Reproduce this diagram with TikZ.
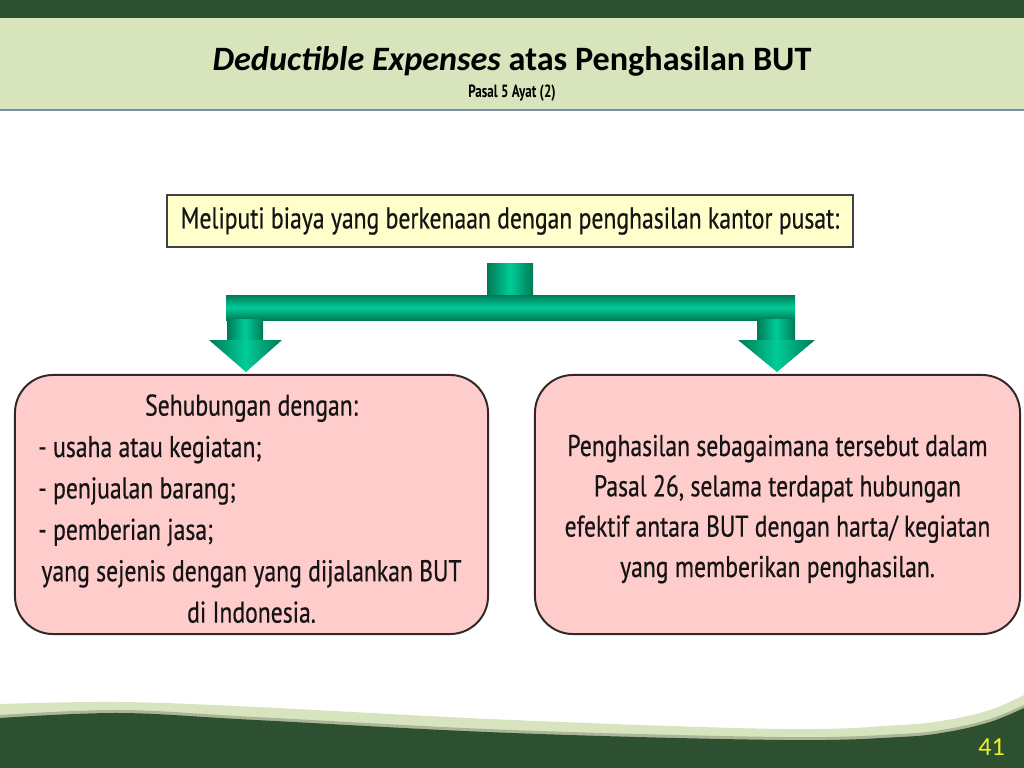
\documentclass[tikz,border=0pt]{standalone}
\usepackage{fontspec}
\setmainfont{Carlito}
\newfontfamily\cond[FakeStretch=0.79,FakeBold=0.5]{PT Sans}
\newfontfamily\condb[FakeStretch=0.74]{PT Sans}
\definecolor{dkgreen}{RGB}{45,81,48}
\definecolor{hdrgreen}{RGB}{216,228,188}
\definecolor{hdrline}{RGB}{122,143,163}
\definecolor{stripA}{RGB}{215,228,189}
\definecolor{stripB}{RGB}{170,182,150}
\definecolor{gdark}{RGB}{0,122,86}
\definecolor{glight}{RGB}{0,204,152}
\definecolor{ybox}{RGB}{255,255,204}
\definecolor{pbox}{RGB}{255,204,204}
\definecolor{pborder}{RGB}{50,40,40}
\definecolor{txt}{RGB}{20,20,20}
\definecolor{pgno}{RGB}{235,240,40}
\tikzset{
  x=0.025cm, y=-0.025cm,
  boxtxt/.style={inner sep=0pt, text=txt, font=\cond\fontsize{21.3pt}{25pt}\selectfont},
  yellowbox/.style={draw=black!75, line width=1pt, fill=ybox, minimum width=17.15cm, minimum height=1.3cm, inner sep=0pt, text=txt, font=\cond\fontsize{21.3pt}{25pt}\selectfont},
  pinkbox/.style={draw=pborder, line width=1.4pt, fill=pbox, rounded corners=0.95cm, minimum height=6.475cm, inner sep=0pt},
  gshadeh/.style={left color=gdark, right color=gdark, middle color=glight},
  gshadev/.style={top color=gdark, bottom color=gdark, middle color=glight},
}
\begin{document}
\begin{tikzpicture}
\useasboundingbox (0,0) rectangle (1024,768);
\fill[white] (0,0) rectangle (1024,768);
% header
\fill[dkgreen] (0,0) rectangle (1024,18);
\fill[hdrgreen] (0,18) rectangle (1024,109.5);
\fill[hdrline] (0,109.5) rectangle (1024,111.5);
\node[inner sep=0pt, anchor=base] (title) at (512,71)
  {\fontsize{24.3pt}{28pt}\selectfont\bfseries\itshape Deductible Expenses\upshape{} atas Penghasilan BUT};
\node[inner sep=0pt, anchor=base] (sub) at (512,97.5)
  {\condb\bfseries\fontsize{12.6pt}{14pt}\selectfont Pasal 5 Ayat (2)};
% bottom wave
\fill[stripA] plot[smooth, tension=0.6] coordinates {(0,704) (120,702) (256,707) (512,720) (784,729) (900,725) (947,720) (990,710) (1024,695)} -- (1024,768) -- (0,768) -- cycle;
\fill[stripB] plot[smooth, tension=0.6] coordinates {(0,715) (120,710) (256,717) (512,730) (784,737) (900,734) (947,729) (990,719) (1024,705)} -- (1024,768) -- (0,768) -- cycle;
\fill[dkgreen] plot[smooth, tension=0.6] coordinates {(0,718) (120,713) (256,720) (512,733) (784,740) (900,737) (947,732) (990,722) (1024,708)} -- (1024,768) -- (0,768) -- cycle;
\node[inner sep=0pt, text=pgno, font=\fontsize{18.5pt}{20pt}\selectfont, anchor=base] (pg) at (991.5,755.5) {41};
% top box
\node[yellowbox] (top) at (510,221) {Meliputi biaya yang berkenaan dengan penghasilan kantor pusat:};
% connector
\shade[gshadeh] (487,263) rectangle (533,296);
\shade[gshadev] (226,295) rectangle (795,320);
\shade[gshadeh] (227,319) rectangle (263,341);
\shade[gshadeh] (209,340) -- (282,340) -- (246,372) -- cycle;
\shade[gshadeh] (757,319) rectangle (795,341);
\shade[gshadeh] (738,340) -- (815,340) -- (777,372) -- cycle;
% pink boxes
\node[pinkbox, minimum width=11.825cm] (left) at (251.5,504.5) {};
\node[pinkbox, minimum width=12.125cm] (right) at (777.5,504.5) {};
% left text
\node[boxtxt, anchor=base] (l1) at (251.5,415.6) {Sehubungan dengan:};
\node[boxtxt, anchor=base west] (l2) at (38,457) {- usaha atau kegiatan;};
\node[boxtxt, anchor=base west] (l3) at (38,498.4) {- penjualan barang;};
\node[boxtxt, anchor=base west] (l4) at (38,539.8) {- pemberian jasa;};
\node[boxtxt, anchor=base] (l5) at (251.5,581.2) {yang sejenis dengan yang dijalankan BUT};
\node[boxtxt, anchor=base] (l6) at (251.5,622.6) {di Indonesia.};
% right text
\node[boxtxt, anchor=base] (r1) at (777.5,456) {Penghasilan sebagaimana tersebut dalam};
\node[boxtxt, anchor=base] (r2) at (777.5,496.3) {Pasal 26, selama terdapat hubungan};
\node[boxtxt, anchor=base] (r3) at (777.5,536.6) {efektif antara BUT dengan harta/ kegiatan};
\node[boxtxt, anchor=base] (r4) at (777.5,577) {yang memberikan penghasilan.};
\end{tikzpicture}
\end{document}
